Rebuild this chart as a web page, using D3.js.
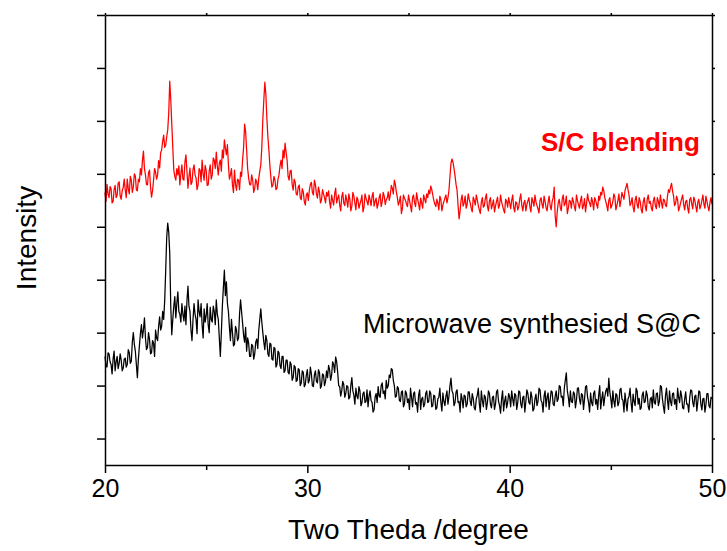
<!DOCTYPE html>
<html><head><meta charset="utf-8">
<script src="https://cdn.jsdelivr.net/npm/d3@7/dist/d3.min.js"></script>
<style>body{margin:0;background:#fff}svg{display:block}</style>
</head><body><svg id="chart" width="727" height="551"></svg>
<script>
// ---- data ----
const xTicks = [20, 30, 40, 50];
const xMinorTicks = [25, 35, 45];
const yTicks = [50, 150, 250, 350, 450, 550, 650, 750, 850];
const xDomain = [20, 50];
const yDomain = [0, 850];
const angleStart = 20.0, angleStep = 0.05; // sampling grid of the scans
const seriesNames = ["S/C blending", "Microwave synthesied S@C"];
const xTitle = "Two Theda /degree";
const yTitle = "Intensity";

const blendValues = [
 515,498,530,512,505,526,522,495,498,520,528,505,510,532,535,508,502,518,524,540,
 520,505,540,522,512,545,538,515,525,550,546,520,518,540,535,560,548,575,593,560,
 548,530,529,552,557,525,506,518,538,560,553,540,
 548,575,561,590,595,612,623,600,604,620,633,665,725,690,645,600,557,545,538,560,
 548,565,529,550,567,540,538,572,586,555,523,545,561,530,534,558,567,548,542,520,
 529,560,557,535,576,550,538,566,557,528,529,555,567,540,548,580,576,560,591,565,
 548,570,576,555,595,580,614,598,586,605,567,540,548,560,529,515,557,530,519,540,
 538,520,553,545,576,600,644,630,595,560,542,530,529,548,538,515,523,540,534,520,
 542,555,567,600,652,690,723,700,655,620,595,565,542,525,529,545,538,520,523,540,
 548,565,576,560,595,580,608,590,576,545,538,555,557,530,519,540,534,512,510,525,
 529,505,501,522,516,498,491,510,514,
 500,519,530,534,515,510,538,529,512,504,525,516,495,501,520,512,505,495,515,508,
 518,497,485,510,500,491,512,523,495,504,510,491,480,506,515,495,490,510,500,487,
 512,502,480,489,515,508,495,482,506,501,485,493,500,510,478,487,512,504,498,491,
 510,501,490,508,515,489,498,504,485,493,505,512,488,497,515,508,492,501,505,516,
 500,510,528,523,512,538,530,516,505,491,498,508,475,485,510,504,500,493,488,510,
 500,489,478,506,510,495,488,514,502,493,482,504,495,485,510,502,495,512,505,519,
 512,527,520,510,500,493,488,502,495,482,508,501,480,491,498,504,510,495,505,519,
 545,570,578,572,560,546,530,519,490,465,480,501,510,489,495,508,485,493,512,502,
 495,485,478,506,500,491,510,501,490,482,475,497,505,487,490,504,512,489,480,499,
 505,484,492,501,478,489,498,506,485,491,510,497,490,482,476,502,498,487,505,495,
 484,500,510,486,478,497,495,482,488,503,512,490,480,495,500,480,492,499,505,488,
 478,505,498,489,510,497,490,484,476,500,505,492,485,508,498,486,480,496,508,490,
 482,498,505,525,470,450,478,495,502,487,480,503,510,490,495,508,475,485,500,498,
 485,505,498,488,480,510,500,492,485,499,508,484,490,503,478,494,512,500,495,488,
 505,497,482,505,500,492,485,508,500,515,510,525,518,505,498,490,480,500,505,485,
 490,498,512,506,482,490,500,512,488,500,515,508,502,518,525,532,520,510,490,495,
 505,487,478,500,508,492,485,505,498,483,476,497,505,489,480,502,510,494,498,486,
 480,499,506,490,484,505,498,487,510,496,485,502,500,491,488,508,520,515,525,532,
 518,508,490,494,508,501,480,487,495,503,510,492,482,498,500,485,476,502,505,493,
 484,506,500,489,478,497,502,484,490,500,510,493,485,508,498,488,480,496,505,492
];

const microValues = [
 205,188,185,212,210,195,190,172,200,215,178,195,205,182,192,210,198,178,183,200,
 202,185,190,218,212,192,196,232,250,228,215,190,165,200,225,248,265,240,255,278,
 240,218,222,250,238,210,212,235,230,205,255,240,235,262,280,255,262,290,275,310,
 368,430,457,440,400,300,246,275,300,318,278,305,327,290,285,270,305,285,272,300,
 265,310,338,300,290,255,235,275,305,285,275,248,312,290,280,305,265,240,295,270,
 282,305,265,250,298,275,270,300,290,265,312,285,275,240,205,250,300,335,368,320,
 346,305,290,260,235,275,250,225,228,262,255,235,240,285,312,290,268,245,232,260,
 215,240,230,205,205,228,225,200,210,232,238,220,255,275,295,270,250,232,218,245,
 235,210,205,230,228,200,198,222,220,185,190,215,212,188,182,205,205,175,178,198,
 198,175,172,195,190,160,165,188,185,158,160,182,180,150,155,178,175,148,152,170,
 180,155,160,185,172,150,148,170,178,158,155,180,175,145,150,172,170,150,158,178,
 165,188,180,160,170,195,190,175,204,195,175,150,148,130,140,158,152,128,135,150,
 148,125,128,150,165,140,132,115,145,130,125,148,140,112,118,135,138,118,120,142,
 110,130,140,122,118,100,105,128,135,118,148,130,128,150,155,135,140,125,160,145,
 150,170,165,182,180,160,150,128,130,148,145,122,120,138,140,110,115,140,135,118,
 125,105,145,128,110,135,138,115,118,100,132,142,105,125,128,110,115,135,140,118,
 120,140,135,110,112,132,130,105,108,125,128,145,118,102,136,120,112,130,140,115,
 130,150,164,140,135,112,118,138,142,118,120,100,135,125,108,132,130,110,115,138,
 138,120,112,135,126,108,104,125,132,145,116,100,140,122,110,132,128,105,118,140,
 135,115,108,128,130,105,115,138,142,120,112,98,125,140,102,120,130,108,118,135,
 128,110,140,125,112,135,132,105,118,140,138,115,108,128,130,100,120,142,135,118,
 115,138,128,102,106,125,134,112,120,145,142,122,118,100,130,140,110,128,136,105,
 122,140,138,115,112,130,140,120,125,150,148,128,130,112,145,160,174,140,128,110,
 140,120,118,138,135,108,122,145,146,125,115,135,132,105,125,148,150,128,118,100,
 136,118,112,135,140,115,124,105,132,150,106,125,138,112,128,140,145,130,164,138,
 125,108,140,120,110,135,132,112,118,142,145,125,122,100,136,118,102,125,130,145,
 118,100,134,120,112,145,140,115,126,105,108,132,138,118,120,140,132,110,104,125,
 128,108,142,118,115,135,136,112,120,150,148,125,110,98,130,145,122,105,140,120,
 112,135,136,115,124,105,145,128,118,140,130,108,106,125,138,115,115,100,128,142,
 140,118,110,130,132,102,120,140,138,115,104,125,126,100,114,135,135,112,108,128,
 125
];

// ---- layout ----
const W = 727, H = 551;
const M = {left: 105, right: 15, top: 15, bottom: 86};
const iw = W - M.left - M.right, ih = H - M.top - M.bottom;
const FONT = "'Liberation Sans', Arial, Helvetica, sans-serif";

const svg = d3.select("#chart");
const g = svg.append("g").attr("transform", `translate(${M.left},${M.top})`);

const x = d3.scaleLinear().domain(xDomain).range([0, iw]);
const y = d3.scaleLinear().domain(yDomain).range([ih, 0]);

const toPoints = vals => vals.map((v, i) => [angleStart + i * angleStep, v]);
const line = d3.line().x(d => x(d[0])).y(d => y(d[1]));

const series = [
  {name: seriesNames[0], pts: toPoints(blendValues), color: "#ff0000"},
  {name: seriesNames[1], pts: toPoints(microValues), color: "#000000"}
];

g.selectAll("path.series").data(series).enter().append("path")
  .attr("class", "series")
  .attr("d", d => line(d.pts))
  .attr("fill", "none")
  .attr("stroke", d => d.color)
  .attr("stroke-width", 1.25)
  .attr("stroke-linejoin", "round");

// ---- axes ----
const axisStyle = sel => {
  sel.select(".domain").attr("stroke", "#000").attr("stroke-width", 1.5);
  sel.selectAll(".tick line").attr("stroke", "#000").attr("stroke-width", 1.5);
};

const xb = g.append("g").attr("transform", `translate(0,${ih})`)
  .call(d3.axisBottom(x).tickValues(xTicks).tickSize(8).tickSizeOuter(0).tickPadding(6).tickFormat(d3.format("d")));
axisStyle(xb);
xb.selectAll("text").attr("font-family", FONT).attr("font-size", 25).attr("fill", "#000");
const xbm = g.append("g").attr("transform", `translate(0,${ih})`)
  .call(d3.axisBottom(x).tickValues(xMinorTicks).tickSize(5).tickFormat(""));
xbm.select(".domain").remove();
xbm.selectAll(".tick line").attr("stroke", "#000").attr("stroke-width", 1.5);

const xt = g.append("g")
  .call(d3.axisTop(x).tickValues(xTicks.concat(xMinorTicks)).tickSize(2).tickSizeOuter(0).tickFormat(""));
axisStyle(xt);

const yl = g.append("g")
  .call(d3.axisLeft(y).tickValues(yTicks).tickSize(8).tickSizeOuter(0).tickFormat(""));
axisStyle(yl);

const yr = g.append("g").attr("transform", `translate(${iw},0)`)
  .call(d3.axisRight(y).tickValues(yTicks).tickSize(3).tickSizeOuter(0).tickFormat(""));
axisStyle(yr);

// ---- titles ----
svg.append("text").attr("x", M.left + iw / 2).attr("y", 539)
  .attr("text-anchor", "middle").attr("font-family", FONT).attr("font-size", 28)
  .text(xTitle);

svg.append("text").attr("transform", "translate(36,238) rotate(-90)")
  .attr("text-anchor", "middle").attr("font-family", FONT).attr("font-size", 28)
  .text(yTitle);

// ---- series labels ----
svg.append("text").attr("x", 541).attr("y", 151)
  .attr("font-family", FONT).attr("font-size", 26).attr("font-weight", "bold")
  .attr("fill", "#ff0000").text(series[0].name);

svg.append("text").attr("x", 363).attr("y", 333)
  .attr("font-family", FONT).attr("font-size", 27)
  .attr("fill", "#000").text(series[1].name);
</script>
</body></html>
